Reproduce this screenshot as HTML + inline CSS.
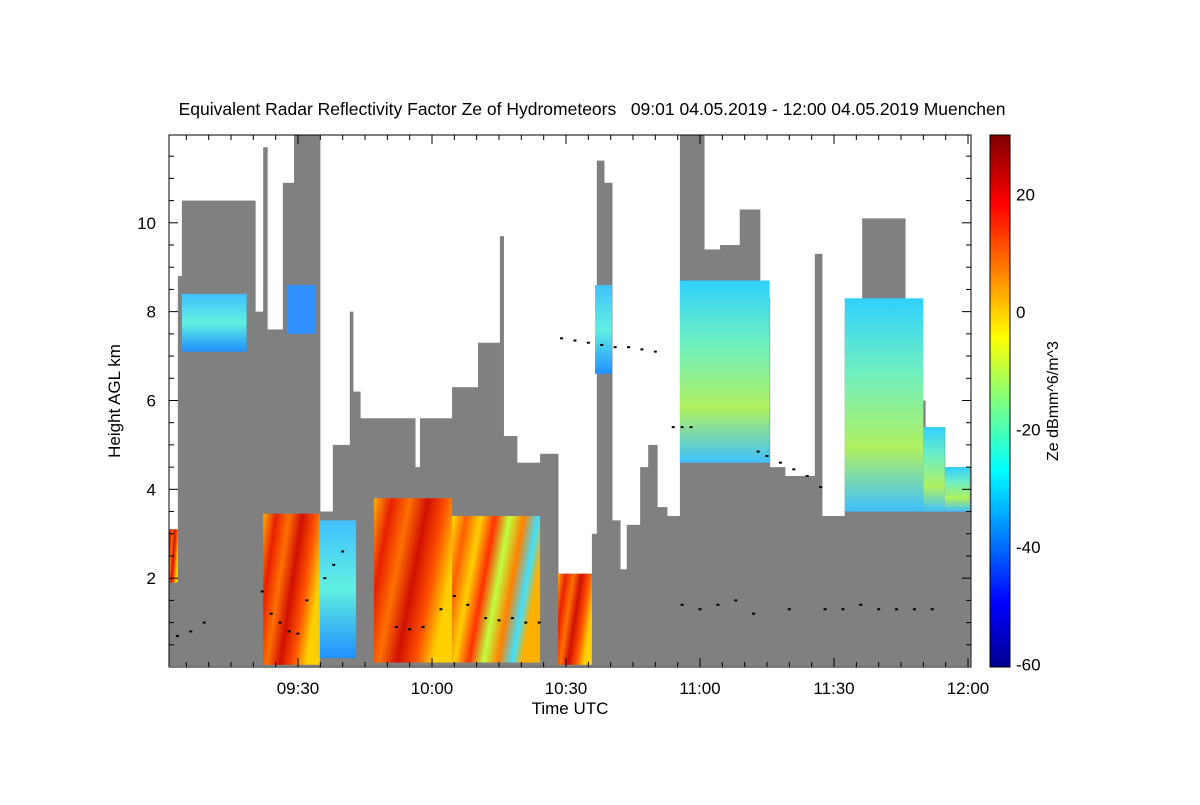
<!DOCTYPE html>
<html><head><meta charset="utf-8"><style>
body{margin:0;background:#fff;}
svg text{font-family:"Liberation Sans",sans-serif;fill:#000;}
</style></head><body>
<svg id="chart" width="1200" height="800" xmlns="http://www.w3.org/2000/svg">
<defs>
<linearGradient id="cbar" x1="0" y1="1" x2="0" y2="0">
<stop offset="0" stop-color="#00008f"/><stop offset="0.12" stop-color="#0000ff"/><stop offset="0.37" stop-color="#00ffff"/><stop offset="0.5" stop-color="#80ff80"/><stop offset="0.62" stop-color="#ffff00"/><stop offset="0.87" stop-color="#ff0000"/><stop offset="1" stop-color="#7f0000"/>
</linearGradient>
<linearGradient id="gRed" x1="0" y1="0" x2="1" y2="0.4">
<stop offset="0" stop-color="#ffb000"/><stop offset="0.2" stop-color="#e82000"/><stop offset="0.4" stop-color="#ff7000"/><stop offset="0.6" stop-color="#d01000"/><stop offset="0.8" stop-color="#ff5000"/><stop offset="1" stop-color="#ffd000"/>
</linearGradient>
<linearGradient id="gMix" x1="0" y1="0" x2="1" y2="0.3">
<stop offset="0" stop-color="#ffe000"/><stop offset="0.15" stop-color="#ff6000"/><stop offset="0.3" stop-color="#ffd000"/><stop offset="0.45" stop-color="#ff3000"/><stop offset="0.6" stop-color="#c0ff40"/><stop offset="0.75" stop-color="#ff8000"/><stop offset="0.9" stop-color="#40e0ff"/><stop offset="1" stop-color="#ffb000"/>
</linearGradient>
<linearGradient id="gCyan" x1="0" y1="0" x2="0" y2="1">
<stop offset="0" stop-color="#40c0ff"/><stop offset="0.5" stop-color="#60f0e0"/><stop offset="1" stop-color="#2090ff"/>
</linearGradient>
<linearGradient id="gGreen" x1="0" y1="0" x2="0" y2="1">
<stop offset="0" stop-color="#30d0ff"/><stop offset="0.35" stop-color="#70f0c0"/><stop offset="0.7" stop-color="#b0f060"/><stop offset="1" stop-color="#40c0ff"/>
</linearGradient>
<clipPath id="plotclip"><rect x="169" y="135" width="802" height="532"/></clipPath>
</defs>
<text x="592" y="115" font-size="17.5" text-anchor="middle" xml:space="preserve" style="white-space:pre">Equivalent Radar Reflectivity Factor Ze of Hydrometeors   09:01 04.05.2019 - 12:00 04.05.2019 Muenchen</text>
<g id="plot" clip-path="url(#plotclip)"></g>
<rect x="169" y="135" width="802" height="532" fill="none" stroke="#000" stroke-width="1"/>
<g id="axes"></g>
<text x="570" y="714" font-size="17" text-anchor="middle">Time UTC</text>
<text transform="translate(120,401) rotate(-90)" font-size="17" text-anchor="middle">Height AGL km</text>
<rect x="990" y="135" width="20" height="532" fill="url(#cbar)" stroke="#000"/>
<text transform="translate(1058,401) rotate(-90)" font-size="16" text-anchor="middle">Ze dBmm^6/m^3</text>
</svg>
<script>
const segStart=[1,3.1,4.0,20.4,22.2,23.1,26.6,29.1,34.9,37.8,41.6,42.3,43.9,56.2,57.3,64.5,70.3,75.2,76,79.0,84.2,88.2,95.8,96.9,98.5,100.3,102.1,103.6,106.6,108.4,110.4,112.6,115.5,120.9,124.5,128.9,133.4,135.6,139.0,145.7,147.3,152.4,154.7,156.3,165.9,170.4,174.8];
const segTop=[3.1,8.8,10.5,8.0,11.7,7.6,10.9,12,3.5,5.0,8.0,6.2,5.6,4.5,5.6,6.3,7.3,9.7,5.2,4.6,4.8,2.1,3.0,11.4,10.9,3.3,2.2,3.2,4.5,5.0,3.6,3.4,12,9.4,9.5,10.3,8.3,4.5,4.3,9.3,3.4,8.0,3.7,10.1,6.0,5.4,4.5];
const endMin=180.4;
// colored echo patches: start min, end min, bottom km, top km, fill
const echoStart=[1,4.0,27.5,22.2,34.9,47,64.5,88.2,96.5,115.5,152.4,170,174.8];
const echoEnd=[3.1,18.5,34,34.9,43,64.5,84.2,95.8,100.3,135.6,170,174.8,180.4];
const echoBottom=[1.9,7.1,7.5,0.05,0.2,0.1,0.1,0.05,6.6,4.6,3.5,3.5,3.5];
const echoTop=[3.1,8.4,8.6,3.45,3.3,3.8,3.4,2.1,8.6,8.7,8.3,5.4,4.5];
const echoFill=["url(#gRed)","url(#gCyan)","#3090ff","url(#gRed)","url(#gCyan)","url(#gRed)","url(#gMix)","url(#gRed)","url(#gCyan)","url(#gGreen)","url(#gGreen)","url(#gGreen)","url(#gGreen)"];
// melting-layer / cloud-base dots: minutes, km
const dotMin=[89,92,95,98,101,104,107,110,114,116,118,133,135,138,141,144,147,3,6,9,22,24,26,28,30,32,36,38,40,52,55,58,62,65,68,72,75,78,81,84,116,120,124,128,132,140,148,152,156,160,164,168,172];
const dotKm=[7.4,7.35,7.3,7.25,7.2,7.2,7.15,7.1,5.4,5.4,5.4,4.85,4.75,4.6,4.45,4.3,4.05,0.7,0.8,1.0,1.7,1.2,1.0,0.8,0.75,1.5,2.0,2.3,2.6,0.9,0.85,0.9,1.3,1.6,1.4,1.1,1.05,1.1,1.0,1.0,1.4,1.3,1.4,1.5,1.2,1.3,1.3,1.3,1.4,1.3,1.3,1.3,1.3];
const xTickLabels=["09:30","10:00","10:30","11:00","11:30","12:00"];
const xTickMin=[30,60,90,120,150,180];
const yTickLabels=["2","4","6","8","10"];
const yTickKm=[2,4,6,8,10];
const cbLabels=["20","0","-20","-40","-60"];
const cbVals=[20,0,-20,-40,-60];

const NS="http://www.w3.org/2000/svg";
const X=m=>164+m*4.4667;
const Y=k=>667-k*44.42;
const CB=v=>312-v*5.875;
const plot=document.getElementById('plot');
const axes=document.getElementById('axes');
function mk(tag,attrs,parent){const e=document.createElementNS(NS,tag);for(const k in attrs)e.setAttribute(k,attrs[k]);parent.appendChild(e);return e;}

for(let i=0;i<segStart.length;i++){
  const x0=X(segStart[i]),x1=X(i+1<segStart.length?segStart[i+1]:endMin);
  const r=mk('rect',{x:x0,y:Y(segTop[i]),width:x1-x0+0.5,height:Y(0.02)-Y(segTop[i]),fill:'#808080'},plot);
  
  
}
for(let i=0;i<echoStart.length;i++){
  const x0=X(echoStart[i]),x1=X(echoEnd[i]);
  const r=mk('rect',{x:x0,y:Y(echoTop[i]),width:x1-x0,height:Y(echoBottom[i])-Y(echoTop[i]),fill:echoFill[i]},plot);
  
  
}
for(let i=0;i<dotMin.length;i++){
  const c=mk('rect',{x:X(dotMin[i])-1.5,y:Y(dotKm[i])-1,width:3,height:2,fill:'#000'},plot);
  
  
}
for(let m=5;m<=180;m+=5){
  const major=m%30===0,len=major?9:5;
  mk('line',{x1:X(m),x2:X(m),y1:667,y2:667-len,stroke:'#000'},axes);
  mk('line',{x1:X(m),x2:X(m),y1:135,y2:135+len,stroke:'#000'},axes);
}
for(let i=0;i<xTickLabels.length;i++){
  const t=mk('text',{x:X(xTickMin[i]),y:694,'font-size':17,'text-anchor':'middle'},axes);
  t.textContent=xTickLabels[i];
  
  
}
for(let k=0.5;k<12;k+=0.5){
  const major=k%2===0,len=major?9:5;
  mk('line',{x1:169,x2:169+len,y1:Y(k),y2:Y(k),stroke:'#000'},axes);
  mk('line',{x1:971,x2:971-len,y1:Y(k),y2:Y(k),stroke:'#000'},axes);
}
for(let i=0;i<yTickLabels.length;i++){
  const t=mk('text',{x:156,y:Y(yTickKm[i])+6,'font-size':17,'text-anchor':'end'},axes);
  t.textContent=yTickLabels[i];
  
  
}
for(let v=-55;v<=30;v+=5){
  const len=v%20===0?8:5;
  mk('line',{x1:1010,x2:1010-len,y1:CB(v),y2:CB(v),stroke:'#000'},axes);
}
for(let i=0;i<cbLabels.length;i++){
  const t=mk('text',{x:1016,y:CB(cbVals[i])+6,'font-size':17},axes);
  t.textContent=cbLabels[i];
  
  
}
</script>
</body></html>
